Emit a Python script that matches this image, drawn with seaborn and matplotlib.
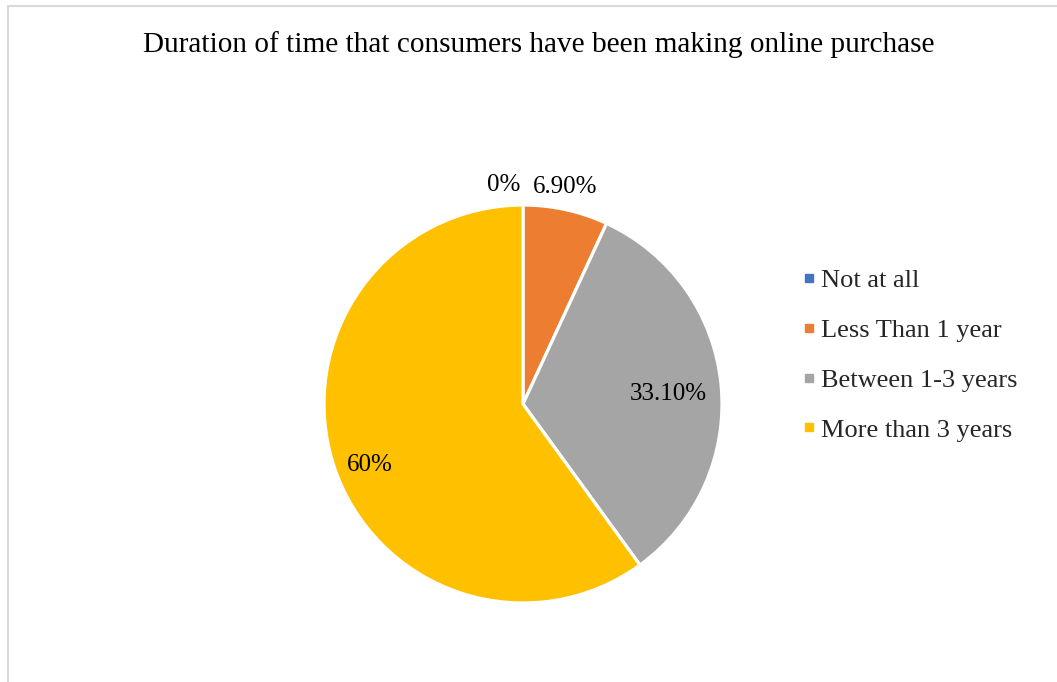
import numpy as np
import matplotlib
matplotlib.use("Agg")
import matplotlib.pyplot as plt
from matplotlib.patches import Rectangle
from matplotlib.lines import Line2D
import seaborn as sns

categories = ["Not at all", "Less Than 1 year", "Between 1-3 years", "More than 3 years"]
values = [0, 6.9, 33.1, 60]
value_labels = ["0%", "6.90%", "33.10%", "60%"]
colors = ["#4472C4", "#ED7D31", "#A5A5A5", "#FFC000"]
title = "Duration of time that consumers have been making online purchase"

# label placement (radius fraction, angular nudge in degrees)
label_radius = [1.105, 1.11, 0.73, 0.83]
label_nudge = [5, 1.5, -1.5, 3.5]

sns.set_theme(style="white")
plt.rcParams["font.family"] = ["Liberation Serif", "DejaVu Serif"]

W, H = 1057, 682
fig = plt.figure(figsize=(W / 100, H / 100), dpi=100)
fig.patch.set_facecolor("white")

cx, cy, r = 523, 404, 199
ax = fig.add_axes([(cx - r) / W, (H - cy - r) / H, 2 * r / W, 2 * r / H])

wedges, _ = ax.pie(values, colors=colors, startangle=90, counterclock=False,
                   radius=1, wedgeprops=dict(edgecolor="white", linewidth=2.3))
ax.set_xlim(-1, 1)
ax.set_ylim(-1, 1)
ax.set_aspect("equal")
ax.axis("off")

for w, lab, rd, nd in zip(wedges, value_labels, label_radius, label_nudge):
    mid = np.deg2rad((w.theta1 + w.theta2) / 2 + nd)
    ax.text(rd * np.cos(mid), rd * np.sin(mid), lab, ha="center", va="center",
            fontsize=18, color="#000000", clip_on=False)

fig.text(539 / W, 1 - 45 / H, title, ha="center", va="center", fontsize=21.1, color="black")

handles = [Line2D([], [], linestyle="none", marker="s", markersize=6.3,
                  markerfacecolor=c, markeredgecolor=c) for c in colors]
fig.legend(handles, categories, loc="center left", bbox_to_anchor=(804 / W, 1 - 355.2 / H),
           frameon=False, fontsize=19, handlelength=0.35, handleheight=0.7,
           handletextpad=0.28, labelspacing=1.0, borderpad=0, borderaxespad=0)

fig.add_artist(Rectangle((8 / W, -0.01), 1.02, 1 - 5.5 / H + 0.01, transform=fig.transFigure,
                         fill=False, edgecolor="#D9D9D9", linewidth=1.5))

fig.savefig("out.png", dpi=100, facecolor="white")
